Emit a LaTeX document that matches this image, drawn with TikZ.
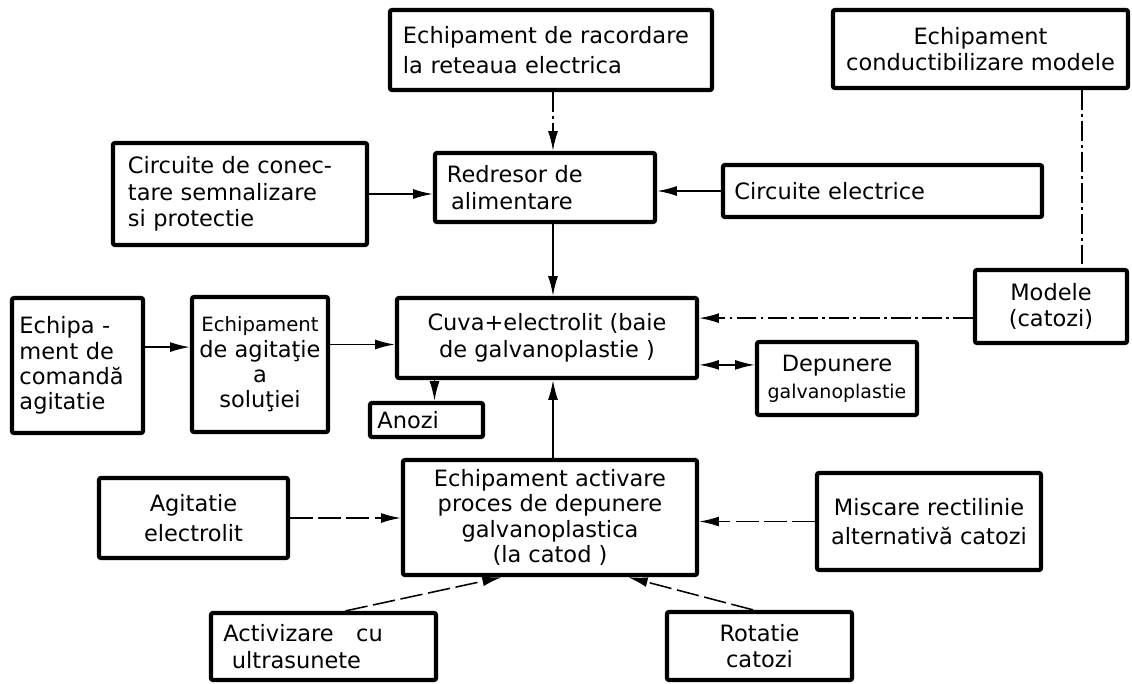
\documentclass[tikz,border=0pt]{standalone}
\usepackage{fontspec}
\setmainfont{DejaVu Sans}
\usetikzlibrary{arrows.meta}

\begin{document}
\begin{tikzpicture}[x=0.025cm,y=-0.025cm,>={Latex[length=14pt,width=7pt]},
		box/.style={draw,line width=3pt,rounded corners=1.5pt,inner sep=2pt,font=\fontsize{16}{19}\selectfont},
		conn/.style={line width=1.1pt},
		dd/.style={conn,dash pattern=on 14pt off 3pt on 2pt off 3pt},
		ld/.style={conn,dash pattern=on 16pt off 4pt}]
	\useasboundingbox (0,0) rectangle (1132,684);
	\coordinate (spine) at (553,0);
	\coordinate (rail) at (1082,0);
	% partea de sus
	\node[box,minimum width=8.05cm,minimum height=2cm,text width=7.4cm,align=left,font=\fontsize{16}{21}\selectfont] (racord) at (551,50) {Echipament de racordare\\la reteaua electrica};
	\node[box,minimum width=7.375cm,minimum height=1.95cm,align=center] (conduct) at (980.5,49) {Echipament\\conductibilizare modele};
	\node[box,minimum width=6.35cm,minimum height=2.55cm,text width=5.6cm,align=left] (conect) at (240,194) {Circuite de conec-\\tare semnalizare\\si protectie};
	\node[box,minimum width=5.5cm,minimum height=1.725cm,text width=4.9cm,align=left] (redresor) at (545,187.5) {Redresor de\\\hspace{3pt}alimentare};
	\node[box,minimum width=7.975cm,minimum height=1.3cm,text width=7.4cm,align=left] (circel) at (882.5,191) {Circuite electrice};
	% baia
	\node[box,minimum width=3.8cm,minimum height=1.825cm,align=center] (modele) at (1051,306.5) {Modele\\(catozi)};
	\node[box,minimum width=7.5cm,minimum height=2cm,align=center] (cuva) at (547,338) {Cuva+electrolit (baie\\de galvanoplastie )};
	\node[box,minimum width=4cm,minimum height=1.825cm,align=center] (depunere) at (837,378.5) {Depunere\\{\fontsize{13.5}{19}\selectfont galvanoplastie}};
	\node[box,minimum width=3.275cm,minimum height=3.375cm,text width=2.9cm,align=left,font=\fontsize{16}{18}\selectfont] (comanda) at (77.5,365.5) {Echipa -\\ment de\\comandă\\agitatie};
	\node[box,minimum width=3.4cm,minimum height=3.375cm,align=center,font=\fontsize{16}{18}\selectfont] (agitsol) at (260,364.5) {{\fontsize{14}{18}\selectfont Echipament}\\de agitaţie\\a\\soluţiei};
	\node[box,minimum width=2.825cm,minimum height=0.85cm,text width=2.45cm,align=left] (anozi) at (426.5,420) {Anozi};
	% activare
	\node[box,minimum width=7.35cm,minimum height=2.875cm,align=center,font=\fontsize{16}{18}\selectfont] (activ) at (550,517.5) {Echipament activare\\proces de depunere\\galvanoplastica\\(la catod )};
	\node[box,minimum width=4.725cm,minimum height=2cm,align=center,font=\fontsize{16}{21}\selectfont] (agitel) at (193.5,518) {Agitatie\\electrolit};
	\node[box,minimum width=5.6cm,minimum height=2.425cm,align=center,font=\fontsize{16}{21}\selectfont] (miscare) at (929,521.5) {Miscare rectilinie\\alternativă catozi};
	\node[box,minimum width=5.625cm,minimum height=1.675cm,text width=5cm,align=left] (activiz) at (323.5,646.5) {Activizare\quad cu\\\hspace{6pt}ultrasunete};
	\node[box,minimum width=4.625cm,minimum height=1.7cm,align=center] (rotatie) at (759.5,646) {Rotatie\\catozi};
	% legaturi
	\draw[dd,->] (racord.south -| spine) -- (redresor.north -| spine);
	\draw[conn,->] (conect.east) -- (conect.east -| redresor.west);
	\draw[conn,->] (circel.west) -- (circel.west -| redresor.east);
	\draw[conn,->] (redresor.south -| spine) -- (cuva.north -| spine);
	\draw[dd] (conduct.south -| rail) -- (modele.north -| rail);
	\draw[dd,->] ([yshift=-0.29cm]modele.west) coordinate (m1) -- (m1 -| cuva.east);
	\draw[conn,->] ([yshift=0.46cm]comanda.east) coordinate (c1) -- (c1 -| agitsol.west);
	\draw[conn,->] ([yshift=0.5cm]agitsol.east) coordinate (c2) -- (c2 -| cuva.west);
	\draw[conn,->] ([xshift=0.2cm]anozi.north) coordinate (c3) (cuva.south -| c3) -- (c3);
	\draw[conn,<->] ([yshift=0.34cm]depunere.west) coordinate (c4) (c4 -| cuva.east) -- (c4);
	\draw[conn,->] (activ.north -| spine) -- (cuva.south -| spine);
	\draw[ld,->] (agitel.east) -- (agitel.east -| activ.west);
	\draw[ld,->] (miscare.west) -- (miscare.west -| activ.east);
	\draw[ld,->] ([xshift=0.55cm]activiz.north) -- ([xshift=-1.2cm]activ.south);
	\draw[ld,->] ([xshift=-0.16cm]rotatie.north) -- ([xshift=1.95cm]activ.south);
	%	\draw[help lines] (0,0) grid[step=50] (1132,684);
\end{tikzpicture}
\end{document}
